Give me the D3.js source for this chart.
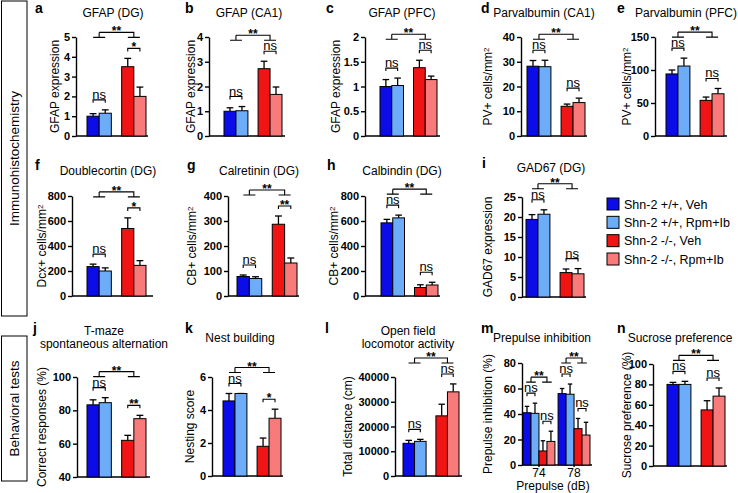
<!DOCTYPE html>
<html>
<head>
<meta charset="utf-8">
<script src="https://cdn.jsdelivr.net/npm/d3@7"></script>
<style>
  body { margin: 0; background: #fff; }
  svg text { font-family: "Liberation Sans", Arial, Helvetica, sans-serif; fill: #000; }
</style>
</head>
<body>
<svg id="fig" width="738" height="493"></svg>
<script>
// groups, in bar order
const groupNames = ['Shn-2 +/+, Veh', 'Shn-2 +/+, Rpm+Ib', 'Shn-2 -/-, Veh', 'Shn-2 -/-, Rpm+Ib'];
const groupColors = ['#0c0ce8', '#6cacf8', '#f01414', '#f87a7a'];

// means and SEM (WT Veh, WT Rpm+Ib, KO Veh, KO Rpm+Ib)
const gfapDG = [1.0, 1.15, 3.5, 2.0];
const gfapDGErr = [0.13, 0.17, 0.42, 0.47];
const gfapCA1 = [1.0, 1.02, 2.72, 1.68];
const gfapCA1Err = [0.14, 0.17, 0.3, 0.3];
const gfapPFC = [1.0, 1.02, 1.38, 1.14];
const gfapPFCErr = [0.14, 0.15, 0.15, 0.07];
const pvCA1 = [28.2, 28.0, 12.0, 13.5];
const pvCA1Err = [2.3, 2.6, 0.9, 1.8];
const pvPFC = [94, 106, 54, 64];
const pvPFCErr = [6, 12, 5, 8];
const dcxDG = [235, 200, 540, 245];
const dcxDGErr = [20, 25, 85, 38];
const crDG = [78, 70, 287, 132];
const crDGErr = [6, 7, 33, 20];
const cbDG = [585, 625, 68, 88];
const cbDGErr = [28, 22, 22, 22];
const gadDG = [19.4, 20.7, 6.1, 5.8];
const gadDGErr = [1.2, 1.1, 0.9, 1.3];
const tmaze = [83.3, 84.6, 62, 75];
const tmazeErr = [3, 3, 3, 2];
const nest = [4.55, 5.0, 1.8, 3.5];
const nestErr = [0.45, 0, 0.5, 0.55];
const openField = [13200, 14000, 24300, 34000];
const openFieldErr = [1200, 800, 4700, 3200];
const ppi74 = [41, 40.5, 11, 18.5];
const ppi74Err = [5, 8, 8, 8];
const ppi78 = [56, 55.5, 28.5, 23.5];
const ppi78Err = [4, 8, 8, 10];
const sucrose = [80, 80, 55, 68.5];
const sucroseErr = [2, 3, 9, 8];

// significance marks: [genotype, within WT, within KO]
const sigA = ['**', 'ns', '*'];
const sigNsNs = ['**', 'ns', 'ns'];
const sigF = ['**', 'ns', '*'];
const sigG = ['**', 'ns', '**'];
const sigJ = ['**', 'ns', '**'];
const sigK = ['**', 'ns', '*'];

// tick values
const ticksA = [0, 1, 2, 3, 4, 5];
const ticksB = [0, 1, 2, 3, 4];
const ticksC = [0, 0.5, 1, 1.5, 2];
const ticksD = [0, 10, 20, 30, 40];
const ticksE = [0, 50, 100, 150];
const ticks800 = [0, 200, 400, 600, 800];
const ticksG = [0, 100, 200, 300, 400];
const ticksI = [0, 5, 10, 15, 20, 25];
const ticksJ = [40, 60, 80, 100];
const ticksK = [0, 2, 4, 6];
const ticksL = [0, 10000, 20000, 30000, 40000];
const ticksM = [0, 20, 40, 60, 80];
const ticksN = [0, 20, 40, 60, 80, 100];
const prepulseLevels = ['74', '78'];

const svg = d3.select('#fig');

// layout of each panel (pixels)
const panels = [
  { id: 'a', title: ['GFAP (DG)'], ylab: 'GFAP expression', ticks: ticksA, vals: [gfapDG], errs: [gfapDGErr], sigs: [sigA],
    ax: 76, axEnd: 148, bars: [87, 146], yB: 136, yT: 37, lx: 35, ly: 13, tx: 113, ty: [17], ylx: 55 },
  { id: 'b', title: ['GFAP (CA1)'], ylab: 'GFAP expression', ticks: ticksB, vals: [gfapCA1], errs: [gfapCA1Err], sigs: [sigNsNs],
    ax: 209, axEnd: 285, bars: [224, 282], yB: 136, yT: 37, lx: 185, ly: 13, tx: 249, ty: [17], ylx: 191 },
  { id: 'c', title: ['GFAP (PFC)'], ylab: 'GFAP expression', ticks: ticksC, vals: [gfapPFC], errs: [gfapPFCErr], sigs: [sigNsNs],
    ax: 365, axEnd: 440, bars: [380, 437], yB: 136, yT: 37, lx: 326, ly: 13, tx: 402, ty: [17], ylx: 336 },
  { id: 'd', title: ['Parvalbumin (CA1)'], ylab: 'PV+ cells/mm', sup: true, ticks: ticksD, vals: [pvCA1], errs: [pvCA1Err], sigs: [sigNsNs],
    ax: 521, axEnd: 587, bars: [527, 585], yB: 136, yT: 37, lx: 481, ly: 13, tx: 544, ty: [17], ylx: 488 },
  { id: 'e', title: ['Parvalbumin (PFC)'], ylab: 'PV+ cells/mm', sup: true, ticks: ticksE, vals: [pvPFC], errs: [pvPFCErr], sigs: [sigNsNs],
    ax: 655, axEnd: 727, bars: [666, 724], yB: 136, yT: 37, lx: 617, ly: 13, tx: 686, ty: [17], ylx: 627 },

  { id: 'f', title: ['Doublecortin (DG)'], ylab: 'Dcx+ cells/mm', sup: true, ticks: ticks800, vals: [dcxDG], errs: [dcxDGErr], sigs: [sigF],
    ax: 72, axEnd: 153, bars: [87, 146], yB: 296, yT: 196, lx: 35, ly: 170, tx: 108, ty: [175], ylx: 42 },
  { id: 'g', title: ['Calretinin (DG)'], ylab: 'CB+ cells/mm', sup: true, ticks: ticksG, vals: [crDG], errs: [crDGErr], sigs: [sigG],
    ax: 228, axEnd: 299, bars: [237, 297], yB: 296, yT: 196, lx: 187, ly: 170, tx: 259, ty: [175], ylx: 192 },
  { id: 'h', title: ['Calbindin (DG)'], ylab: 'CB+ cells/mm', sup: true, ticks: ticks800, vals: [cbDG], errs: [cbDGErr], sigs: [sigNsNs],
    ax: 365, axEnd: 440, bars: [381, 438], yB: 296, yT: 196, lx: 327, ly: 170, tx: 402, ty: [175], ylx: 334 },
  { id: 'i', title: ['GAD67 (DG)'], ylab: 'GAD67 expression', ticks: ticksI, vals: [gadDG], errs: [gadDGErr], sigs: [sigNsNs],
    ax: 522, axEnd: 586, bars: [526, 584], yB: 297, yT: 197, lx: 482, ly: 168, tx: 551, ty: [172], ylx: 488 },

  { id: 'j', title: ['T-maze', 'spontaneous alternation'], ylab: 'Correct responses (%)', ticks: ticksJ, vals: [tmaze], errs: [tmazeErr], sigs: [sigJ],
    ax: 77, axEnd: 150, bars: [87, 146], yB: 477, yT: 377, lx: 33, ly: 333, tx: 104, ty: [335, 348], ylx: 42 },
  { id: 'k', title: ['Nest building'], ylab: 'Nesting score', ticks: ticksK, vals: [nest], errs: [nestErr], sigs: [sigK],
    ax: 212, axEnd: 283, bars: [223, 281], yB: 476, yT: 377, lx: 185, ly: 333, tx: 240, ty: [342], ylx: 190 },
  { id: 'l', title: ['Open field', 'locomotor activity'], ylab: 'Total distance (cm)', ticks: ticksL, vals: [openField], errs: [openFieldErr], sigs: [sigNsNs],
    ax: 395, axEnd: 462, bars: [403, 459], yB: 476, yT: 377, lx: 325, ly: 333, tx: 408, ty: [335, 348], ylx: 348 },
  { id: 'm', title: ['Prepulse inhibition'], ylab: 'Prepulse inhibition (%)', ticks: ticksM, vals: [ppi74, ppi78], errs: [ppi74Err, ppi78Err], sigs: [sigNsNs, sigNsNs],
    ax: 522, axEnd: 592, bars: [523, 590], yB: 465, yT: 363, lx: 481, ly: 333, tx: 542, ty: [342], ylx: 488,
    clusters: prepulseLevels, xlab: 'Prepulse (dB)', xlx: 553 },
  { id: 'n', title: ['Sucrose preference'], ylab: 'Sucrose preference (%)', ticks: ticksN, vals: [sucrose], errs: [sucroseErr], sigs: [sigNsNs],
    ax: 653, axEnd: 727, bars: [667, 725], yB: 466, yT: 364, lx: 617, ly: 333, tx: 680, ty: [342], ylx: 627 }
];

function drawPanel(p) {
  const g = svg.append('g').attr('class', 'panel-' + p.id);
  const ticks = p.ticks;
  const y = d3.scaleLinear()
    .domain([ticks[0], ticks[ticks.length - 1]])
    .range([p.yB, p.yT]);

  // panel letter and title
  g.append('text')
    .attr('x', p.lx).attr('y', p.ly)
    .attr('font-size', 14).attr('font-weight', 'bold')
    .text(p.id);
  p.title.forEach((t, i) => {
    g.append('text')
      .attr('x', p.tx).attr('y', p.ty[i])
      .attr('text-anchor', 'middle').attr('font-size', 12)
      .text(t);
  });

  // y axis
  const yAxis = g.append('g')
    .attr('transform', `translate(${p.ax},0)`)
    .call(d3.axisLeft(y).tickValues(ticks).tickSize(4).tickSizeOuter(0).tickPadding(2).tickFormat(d => String(d)));
  yAxis.selectAll('path, line').attr('stroke', '#000').attr('stroke-width', 1.4);
  yAxis.selectAll('text').attr('font-size', 11).attr('font-weight', 'bold').attr('font-family', null).attr('fill', '#000');

  const ylab = g.append('text')
    .attr('transform', `translate(${p.ylx},${(p.yB + p.yT) / 2}) rotate(-90)`)
    .attr('text-anchor', 'middle').attr('dy', '0.35em').attr('font-size', 12)
    .text(p.ylab);
  if (p.sup) {
    ylab.append('tspan').attr('dy', '-0.45em').attr('font-size', 8).text('2');
  }

  // x axis baseline
  g.append('line')
    .attr('x1', p.ax).attr('x2', p.axEnd)
    .attr('y1', p.yB).attr('y2', p.yB)
    .attr('stroke', '#000').attr('stroke-width', 1.4);

  // clusters of four bars
  const clusterNames = p.clusters || ['all'];
  const cluster = d3.scaleBand()
    .domain(clusterNames)
    .range(p.bars)
    .paddingInner(p.clusters ? 0.09 : 0);
  const gapUnits = p.clusters ? 0 : 0.85;

  if (p.clusters) {
    const xAxis = g.append('g')
      .attr('transform', `translate(0,${p.yB})`)
      .call(d3.axisBottom(cluster).tickSize(2).tickSizeOuter(0).tickPadding(1));
    xAxis.select('.domain').remove();
    xAxis.selectAll('line').attr('stroke', '#000').attr('stroke-width', 1.4);
    xAxis.selectAll('text').attr('font-size', 12).attr('font-family', null).attr('fill', '#000');
    g.append('text')
      .attr('x', p.xlx).attr('y', p.yB + 25)
      .attr('text-anchor', 'middle').attr('font-size', 12)
      .text(p.xlab);
  }

  clusterNames.forEach((cn, ci) => {
    const vals = p.vals[ci];
    const errs = p.errs[ci];
    const sig = p.sigs[ci];
    const c0 = cluster(cn);
    const slot = d3.scaleLinear().domain([0, 4 + gapUnits]).range([c0, c0 + cluster.bandwidth()]);
    const bw = slot(1) - slot(0);
    const bx = i => slot(i + (i >= 2 ? gapUnits : 0));
    const cx = i => bx(i) + bw / 2;

    const rows = vals.map((v, i) => ({ v: v, e: errs[i], i: i }));

    // error bars (upper only)
    const eb = g.append('g').selectAll('g').data(rows).join('g');
    eb.append('line')
      .attr('x1', d => cx(d.i)).attr('x2', d => cx(d.i))
      .attr('y1', d => y(d.v)).attr('y2', d => y(d.v + d.e))
      .attr('stroke', '#000').attr('stroke-width', 1.3);
    eb.append('line')
      .attr('x1', d => cx(d.i) - bw * 0.28).attr('x2', d => cx(d.i) + bw * 0.28)
      .attr('y1', d => y(d.v + d.e)).attr('y2', d => y(d.v + d.e))
      .attr('stroke', '#000').attr('stroke-width', 1.3);

    g.append('g').selectAll('rect').data(rows).join('rect')
      .attr('x', d => bx(d.i)).attr('width', bw)
      .attr('y', d => y(d.v)).attr('height', d => y(ticks[0]) - y(d.v))
      .attr('fill', d => groupColors[d.i])
      .attr('stroke', '#000').attr('stroke-width', 1);

    // pair brackets
    const pairY = [0, 2].map(k => Math.min(y(vals[k] + errs[k]), y(vals[k + 1] + errs[k + 1])) - 10);
    [0, 2].forEach((k, pi) => {
      const yb = pairY[pi];
      const x1 = cx(k), x2 = cx(k + 1);
      g.append('path')
        .attr('d', `M${x1},${yb + 3}V${yb}H${x2}V${yb + 3}`)
        .attr('fill', 'none').attr('stroke', '#000').attr('stroke-width', 1.1);
      const label = sig[pi + 1];
      g.append('text')
        .attr('x', (x1 + x2) / 2)
        .attr('y', label === 'ns' ? yb - 1 : yb + 3)
        .attr('text-anchor', 'middle')
        .attr('font-size', label === 'ns' ? 13 : 12)
        .attr('font-weight', label === 'ns' ? 'normal' : 'bold')
        .text(label);
    });

    // genotype bracket
    const ym = d3.min(pairY) - 16;
    const gx1 = (cx(0) + cx(1)) / 2, gx2 = (cx(2) + cx(3)) / 2;
    const foot = p.clusters ? bw * 0.6 : 6;
    g.append('path')
      .attr('d', `M${gx1},${ym}H${gx2}V${ym + 5}M${gx2 - foot},${ym + 5}H${gx2 + foot}` +
                 `M${gx1},${ym}V${ym + 5}M${gx1 - foot},${ym + 5}H${gx1 + foot}`)
      .attr('fill', 'none').attr('stroke', '#000').attr('stroke-width', 1.1);
    g.append('text')
      .attr('x', (gx1 + gx2) / 2).attr('y', ym + 3)
      .attr('text-anchor', 'middle').attr('font-size', 12).attr('font-weight', 'bold')
      .text(sig[0]);
  });
}

panels.forEach(drawPanel);

// legend
const legendY = d3.scalePoint().domain(groupNames).range([204, 259]);
const legend = svg.append('g').selectAll('g').data(groupNames).join('g')
  .attr('transform', d => `translate(607,${legendY(d)})`);
legend.append('rect')
  .attr('x', 0).attr('y', -6).attr('width', 12).attr('height', 12)
  .attr('fill', (d, i) => groupColors[i]).attr('stroke', '#000').attr('stroke-width', 1);
legend.append('text')
  .attr('x', 17).attr('y', 4.5).attr('font-size', 12.5)
  .text(d => d);

// side boxes
const sections = [
  { name: 'Immunohistochemistry', y0: 1, y1: 316 },
  { name: 'Behavioral tests', y0: 336, y1: 481 }
];
sections.forEach(s => {
  svg.append('rect')
    .attr('x', 1.5).attr('y', s.y0).attr('width', 25.5).attr('height', s.y1 - s.y0)
    .attr('fill', 'none').attr('stroke', '#000').attr('stroke-width', 1);
  svg.append('text')
    .attr('transform', `translate(14.5,${(s.y0 + s.y1) / 2}) rotate(-90)`)
    .attr('text-anchor', 'middle').attr('dy', '0.35em').attr('font-size', 13.5)
    .text(s.name);
});
</script>
</body>
</html>
